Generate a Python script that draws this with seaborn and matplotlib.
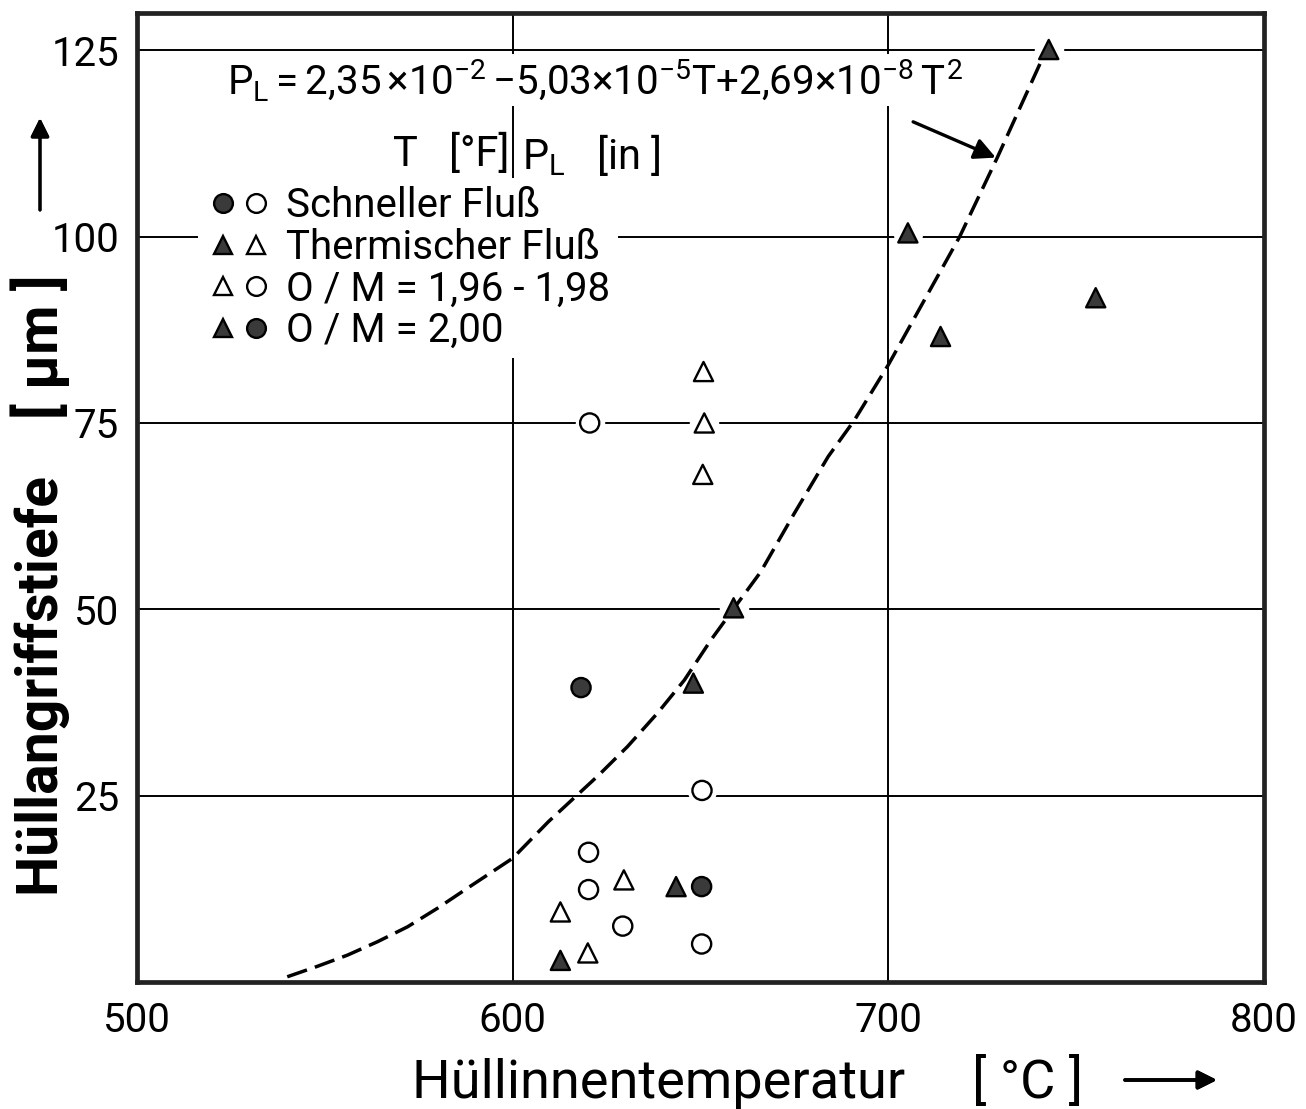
import pandas as pd
import seaborn as sns
import matplotlib.pyplot as plt
from matplotlib.lines import Line2D
from matplotlib.legend_handler import HandlerTuple

# Messpunkte : Temperatur [°C], Tiefe [µm]
schnell_offen_t = [620.5, 650.4, 620.2, 620.2, 629.3, 650.3]
schnell_offen_p = [75.0, 25.7, 17.4, 12.4, 7.5, 5.1]
schnell_voll_t = [618.2, 650.3]
schnell_voll_p = [39.5, 12.8]
therm_offen_t = [650.8, 651.0, 650.6, 629.6, 612.7, 620.0]
therm_offen_p = [81.9, 75.0, 68.1, 13.7, 9.4, 3.9]
therm_voll_t = [742.7, 705.2, 755.2, 713.9, 658.8, 648.1, 643.5, 612.7]
therm_voll_p = [125.1, 100.5, 91.8, 86.6, 50.2, 40.1, 12.8, 2.9]

# gestrichelte Kurve
kurve_t = [540, 548, 556, 564, 572, 580, 588, 600, 609.5, 617, 623, 630.6, 638.6, 645.7,
           652.8, 659, 666, 675, 684, 691, 700, 719, 729, 742]
kurve_p = [0.7, 2.1, 3.6, 5.4, 7.4, 9.9, 12.6, 16.6, 21.5, 25.0, 27.8, 31.6, 36.1, 40.5,
           45.9, 50.2, 55.0, 62.9, 70.5, 75.4, 82.8, 100.0, 110.6, 125.0]

x_ticks = [500, 600, 700, 800]
y_ticks = [25, 50, 75, 100, 125]

legende = ['Schneller Fluß', 'Thermischer Fluß', 'O / M = 1,96 - 1,98', 'O / M = 2,00']

df = pd.concat([
    pd.DataFrame({'temp': schnell_offen_t, 'tiefe': schnell_offen_p, 'fluss': 'schnell', 'om': '1,96-1,98'}),
    pd.DataFrame({'temp': schnell_voll_t, 'tiefe': schnell_voll_p, 'fluss': 'schnell', 'om': '2,00'}),
    pd.DataFrame({'temp': therm_offen_t, 'tiefe': therm_offen_p, 'fluss': 'thermisch', 'om': '1,96-1,98'}),
    pd.DataFrame({'temp': therm_voll_t, 'tiefe': therm_voll_p, 'fluss': 'thermisch', 'om': '2,00'}),
], ignore_index=True)

sns.set_style('white')
plt.rcParams['font.family'] = ['Roboto', 'DejaVu Sans']
plt.rcParams['mathtext.fontset'] = 'custom'
plt.rcParams['mathtext.rm'] = 'Roboto'
plt.rcParams['mathtext.it'] = 'Roboto'
plt.rcParams['mathtext.bf'] = 'Roboto:bold'
plt.rcParams['text.color'] = 'black'
plt.rcParams['xtick.color'] = 'black'
plt.rcParams['ytick.color'] = 'black'

GRAU = '#3a3a3a'

fig = plt.figure(figsize=(13.06, 11.09), dpi=100)
ax = fig.add_axes([137/1306, 1-982/1109, 1127/1306, 969/1109])

ax.set_xlim(500, 800)
ax.set_ylim(0, 130)
ax.set_xticks(x_ticks)
ax.set_yticks(y_ticks)
ax.grid(True, color='black', lw=1.4)
ax.set_axisbelow(True)
ax.tick_params(length=0, labelsize=29)
ax.tick_params(axis='y', pad=13)
ax.tick_params(axis='x', pad=14)
for s in ax.spines.values():
    s.set_linewidth(3.4)
    s.set_color('#222222')
    s.set_zorder(6)

# weisse Hoefe um die Punkte (unterbrechen das Gitter)
sns.scatterplot(data=df, x='temp', y='tiefe', color='white', marker='o', s=450,
                linewidth=0, legend=False, zorder=2, ax=ax)

# Kurve
sns.lineplot(x=kurve_t, y=kurve_p, color='black', lw=2.5, estimator=None, zorder=3, ax=ax)
ax.lines[-1].set_dashes((6, 2.4))

sns.scatterplot(data=df, x='temp', y='tiefe', hue='om', style='fluss',
                markers={'schnell': 'o', 'thermisch': '^'},
                palette={'1,96-1,98': 'white', '2,00': GRAU},
                edgecolor='black', linewidth=1.7, s=190, legend=False, zorder=4, ax=ax)
ax.set_xlabel('')
ax.set_ylabel('')

# Formel
ax.text(524, 121,
        r'$P_L = 2{,}35\,{\times}10^{-2}\,{-}5{,}03{\times}10^{-5}T{+}2{,}69{\times}10^{-8}\,T^2$',
        fontsize=29, ha='left', va='center', zorder=5,
        bbox=dict(facecolor='white', edgecolor='none', pad=2))
ax.text(599.0, 111, 'T   [°F]', fontsize=30, ha='right', va='center', zorder=5)
ax.text(602.4, 111, r'$P_L$   [in ]', fontsize=30, ha='left', va='center', zorder=5)
ax.annotate('', xy=(728.6, 110.6), xytext=(706.6, 115.4),
            arrowprops=dict(arrowstyle='-|>', lw=2.4, color='black', mutation_scale=32,
                            shrinkA=0, shrinkB=0), zorder=5)

# Legende
def mk(m, fc):
    return Line2D([], [], marker=m, ls='', mfc=fc, mec='black', mew=1.7, ms=13.5)

handles = [(mk('o', GRAU), mk('o', 'white')),
           (mk('^', GRAU), mk('^', 'white')),
           (mk('^', 'white'), mk('o', 'white')),
           (mk('^', GRAU), mk('o', GRAU))]
leg = ax.legend(handles, legende, handler_map={tuple: HandlerTuple(ndivide=None, pad=0.0)},
                loc='upper left', bbox_to_anchor=(0.0545, 0.830), fontsize=29,
                frameon=True, framealpha=1, facecolor='white', edgecolor='none',
                fancybox=False, borderpad=0.2, handlelength=1.64, handletextpad=0.33,
                labelspacing=0.07, borderaxespad=0, numpoints=1)
leg.set_zorder(5)

# Achsenbeschriftungen
fig.text(40/1306, 1-585/1109, 'Hüllangriffstiefe    [ µm ]', rotation=90,
         fontsize=41, fontweight='bold', ha='center', va='center')
fig.text(412/1306, 1-1098/1109, 'Hüllinnentemperatur     [ °C ]',
         fontsize=39, ha='left', va='baseline')
fig.add_artist(plt.annotate('', xy=(40/1306, 1-118/1109), xytext=(40/1306, 1-210/1109),
                            xycoords='figure fraction', textcoords='figure fraction',
                            arrowprops=dict(arrowstyle='-|>', lw=2.2, color='black',
                                            mutation_scale=28, shrinkA=0, shrinkB=0)))
fig.add_artist(plt.annotate('', xy=(1217/1306, 1-1080/1109), xytext=(1125/1306, 1-1080/1109),
                            xycoords='figure fraction', textcoords='figure fraction',
                            arrowprops=dict(arrowstyle='-|>', lw=2.6, color='black',
                                            mutation_scale=28, shrinkA=0, shrinkB=0)))

fig.savefig('out.png', dpi=100)
